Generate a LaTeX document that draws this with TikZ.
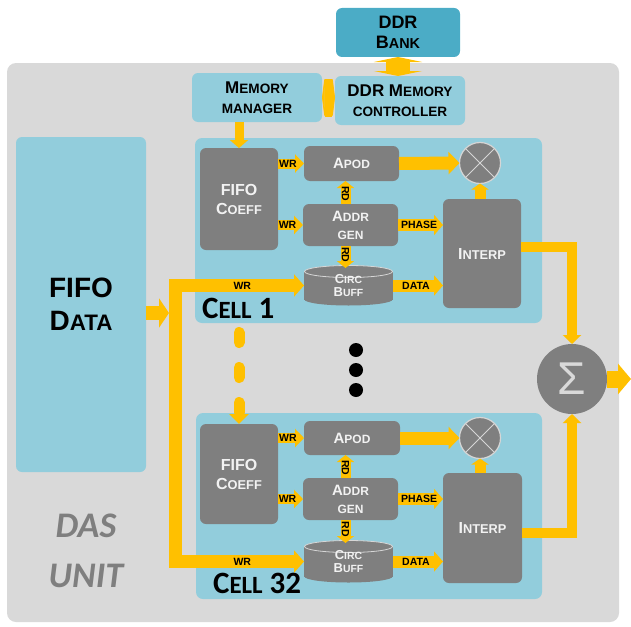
\documentclass[tikz,border=0pt]{standalone}
\usepackage{fontspec}
\setmainfont{Liberation Sans}
\newfontfamily\carlito{Carlito}
\usetikzlibrary{arrows.meta,calc}
\definecolor{bgGrey}{HTML}{D9D9D9}
\definecolor{lBlue}{HTML}{92CDDC}
\definecolor{bBlue}{HTML}{4BACC6}
\definecolor{dGrey}{HTML}{7F7F7F}
\definecolor{orng}{HTML}{FFC000}
\definecolor{txtW}{HTML}{F2F2F2}
\definecolor{cylEdge}{HTML}{D6D6D6}
\newcommand\smc[1]{\scalebox{0.8}{#1}}
\newcommand\fsz[2]{\fontsize{#1}{#2}\selectfont}
\begin{document}
\begin{tikzpicture}[x=1pt,y=-1pt,
  lbox/.style={fill=lBlue, rounded corners=6pt, inner sep=0pt, outer sep=0pt, align=center, text=black},
  gbox/.style={fill=dGrey, rounded corners=6pt, inner sep=0pt, outer sep=0pt, align=center, text=txtW},
  cellbox/.style={fill=lBlue, rounded corners=7pt, inner sep=0pt, outer sep=0pt},
  cyl/.style={inner sep=0pt, outer sep=0pt, align=center, text=txtW,
    minimum width=89pt,
    path picture={
      \fill[dGrey] ([yshift=-6pt]path picture bounding box.north west) rectangle ([yshift=6pt]path picture bounding box.south east);
      \fill[dGrey] ([yshift=6.5pt]path picture bounding box.south) ellipse[x radius=44pt, y radius=6pt];
      \filldraw[fill=dGrey, draw=cylEdge, line width=0.8pt] ([yshift=-6.5pt]path picture bounding box.north) ellipse[x radius=44pt, y radius=6pt];
    }},
  mult/.style={circle, fill=dGrey, draw=cylEdge, line width=1.2pt, minimum size=41pt, inner sep=0pt, outer sep=0pt},
  xline/.style={draw=cylEdge, line width=1pt},
  arrW/.style={draw=orng, line width=10pt, -{Triangle[length=9pt,width=18pt]}},
  arrP/.style={draw=orng, line width=12pt, -{Triangle[length=9pt,width=20pt]}},
  arrR/.style={draw=orng, line width=10pt, -{Triangle[length=7pt,width=17pt]}},
  arrS/.style={draw=orng, line width=10pt, -{Triangle[length=9pt,width=18pt]}},
  lbl/.style={font=\bfseries\fsz{10.5}{12}, text=black, inner sep=0pt},
  celllbl/.style={font=\carlito\bfseries\fsz{31}{31}, text=black, inner sep=0pt, anchor=base west},
  dot/.style={circle, fill=black, minimum size=14pt, inner sep=0pt}
]
\useasboundingbox (0,0) rectangle (631,626);

% DAS unit background
\node[fill=bgGrey, rounded corners=9pt, minimum width=612pt, minimum height=559pt, inner sep=0pt] (das) at (313,342.5) {};
\node[font=\carlito\bfseries\itshape\fsz{36}{50}, text=dGrey, align=center] (dasl) at (86,551) {DAS\\UNIT};

% memory blocks
\node[lbox, fill=bBlue, minimum width=124pt, minimum height=49pt, font=\bfseries\fsz{18}{20.5}] (bank) at (398,32.5) {DDR\\B\smc{ANK}};
\node[lbox, minimum width=130pt, minimum height=49pt, font=\bfseries\fsz{17}{20}] (mm) at (257,97.5) {M\smc{EMORY}\\\smc{MANAGER}};
\node[lbox, minimum width=130pt, minimum height=49pt, font=\bfseries\fsz{17}{20}] (ctrl) at (400,100.5) {DDR M\smc{EMORY}\\\smc{CONTROLLER}};

% FIFO data
\node[lbox, minimum width=130pt, minimum height=335pt, font=\bfseries\fsz{28}{33}] (fd) at (81,304.5) {FIFO\\D\smc{ATA}};

% cells
\node[cellbox, minimum width=347pt, minimum height=185pt] (c1) at (368.5,230.5) {};
\node[cellbox, minimum width=346pt, minimum height=186pt] (c32) at (369,506) {};

% cell 1 contents
\node[gbox, minimum width=78pt, minimum height=102pt, font=\bfseries\fsz{16}{19}] (fc1) at (239,199) {FIFO\\C\smc{OEFF}};
\node[gbox, minimum width=95pt, minimum height=35pt, font=\bfseries\fsz{15}{18}] (ap1) at (351.5,163.5) {A\smc{POD}};
\node[gbox, minimum width=95pt, minimum height=42pt, font=\bfseries\fsz{15}{18}] (ag1) at (350.5,225) {A\smc{DDR}\\\smc{GEN}};
\node[cyl, minimum height=41pt, font=\bfseries\fsz{13}{13}] (cb1) at (348.5,285.5) {\rule{0pt}{7pt}C\smc{IRC}\\B\smc{UFF}};
\node[mult] (mu1) at (480,163) {};
\draw[xline] (mu1.45) -- (mu1.225) (mu1.135) -- (mu1.315);
\node[gbox, minimum width=78pt, minimum height=109pt, font=\bfseries\fsz{16}{19}] (ip1) at (482,253.5) {I\smc{NTERP}};
\node[celllbl] (c1l) at (202,318) {C\smc{ELL} 1};

% cell 32 contents
\node[gbox, minimum width=78pt, minimum height=100pt, font=\bfseries\fsz{16}{19}] (fc32) at (239,474) {FIFO\\C\smc{OEFF}};
\node[gbox, minimum width=96pt, minimum height=34pt, font=\bfseries\fsz{15}{18}] (ap32) at (352,438) {A\smc{POD}};
\node[gbox, minimum width=95pt, minimum height=42pt, font=\bfseries\fsz{15}{18}] (ag32) at (350.5,499) {A\smc{DDR}\\\smc{GEN}};
\node[cyl, minimum height=43pt, font=\bfseries\fsz{13}{13}] (cb32) at (348.5,561.5) {\rule{0pt}{7pt}C\smc{IRC}\\B\smc{UFF}};
\node[mult] (mu32) at (480,438) {};
\draw[xline] (mu32.45) -- (mu32.225) (mu32.135) -- (mu32.315);
\node[gbox, minimum width=79pt, minimum height=110pt, font=\bfseries\fsz{16}{19}] (ip32) at (482.5,528) {I\smc{NTERP}};
\node[celllbl] (c32l) at (213,593) {C\smc{ELL} 32};

% sum
\node[circle, fill=dGrey, minimum size=70pt, inner sep=0pt, outer sep=0pt, text=bgGrey, font=\fsz{46}{46}] (sum) at (572,379) {Σ};
\coordinate (out) at (631,379);

% dots
\node[dot] (d1) at (356,350) {};
\node[dot] (d2) at (356,370) {};
\node[dot] (d3) at (356,390) {};

% memory arrows
\draw[draw=orng, line width=24pt, {Triangle[length=5pt,width=48pt]}-{Triangle[length=5pt,width=48pt]}] (bank.south) -- (bank.south |- ctrl.north);
\draw[draw=orng, line width=38pt, {Triangle[length=3pt,width=48pt]}-{Triangle[length=3pt,width=48pt]}] (mm.east) -- (ctrl.west |- mm.east);
\draw[draw=orng, line width=9pt, -{Triangle[length=8pt,width=18pt]}] (fc1.north |- mm.south) -- (fc1.north);

% dashed link cell 1 -> cell 32
\draw[draw=orng, line width=11pt, line cap=round, dash pattern=on 10pt off 25pt, -{Triangle[length=10pt,width=19pt]}] ($(fc1.north |- c1.south)+(0,9.5)$) -- (fc32.north);

% FIFO data bus
\coordinate (busx) at (175.5,0);
\coordinate (fdin) at (169,313);
\draw[draw=orng, line width=14pt, -{Triangle[length=10pt,width=29pt]}] (fd.east |- fdin) -- (fdin);
\draw[draw=orng, line width=13pt, {Triangle[length=10pt,width=22pt]}-{Triangle[length=10pt,width=22pt]}] (cb1.west) -- (cb1.west -| busx) -- (cb32.west -| busx) -- (cb32.west);
\node[lbl] (wrb1) at ($(cb1.west -| busx)!0.52!(cb1.west)$) {WR};
\node[lbl] (wrb32) at ($(cb32.west -| busx)!0.52!(cb32.west)$) {WR};

% cell 1 arrows
\draw[arrW] (fc1.east |- ap1.west) -- (ap1.west) node[lbl, pos=0.38] (wa1) {WR};
\draw[arrW] (fc1.east |- ag1.west) -- (ag1.west) node[lbl, pos=0.38] (wg1) {WR};
\coordinate (rd1) at ($(ag1.north)+(-5,0)$);
\coordinate (rdd1) at ($(ag1.south)+(-5,0)$);
\draw[arrR] (rd1) -- (rd1 |- ap1.south) node[lbl, pos=0.45, rotate=-90] (ru1) {RD};
\draw[arrR] (rdd1) -- ($(rdd1 |- cb1.north)+(0,3)$) node[lbl, pos=0.4, rotate=-90] (rdn1) {RD};
\draw[arrP] (ag1.east) -- (ip1.west |- ag1.east) node[lbl, pos=0.47] (ph1) {PHASE};
\draw[arrP] (cb1.east) -- (ip1.west |- cb1.east) node[lbl, pos=0.46] (da1) {DATA};
\draw[draw=orng, line width=13pt, -{Triangle[length=11pt,width=22pt]}] (ap1.east) -- (mu1.west);
\draw[draw=orng, line width=11pt, -{Triangle[length=6pt,width=17pt]}] (mu1.south |- ip1.north) -- (mu1.south);
\draw[arrS] ($(ip1.east)+(0,-6.5)$) -| (sum.north);

% cell 32 arrows
\draw[arrW] (fc32.east |- ap32.west) -- (ap32.west) node[lbl, pos=0.38] (wa32) {WR};
\draw[arrW] (fc32.east |- ag32.west) -- (ag32.west) node[lbl, pos=0.38] (wg32) {WR};
\coordinate (rd32) at ($(ag32.north)+(-5,0)$);
\coordinate (rdd32) at ($(ag32.south)+(-5,0)$);
\draw[arrR] (rd32) -- (rd32 |- ap32.south) node[lbl, pos=0.45, rotate=-90] (ru32) {RD};
\draw[arrR] (rdd32) -- ($(rdd32 |- cb32.north)+(0,3)$) node[lbl, pos=0.4, rotate=-90] (rdn32) {RD};
\draw[arrP] (ag32.east) -- (ip32.west |- ag32.east) node[lbl, pos=0.47] (ph32) {PHASE};
\draw[arrP] (cb32.east) -- (ip32.west |- cb32.east) node[lbl, pos=0.46] (da32) {DATA};
\draw[draw=orng, line width=13pt, -{Triangle[length=11pt,width=22pt]}] (ap32.east) -- (mu32.west);
\draw[draw=orng, line width=11pt, -{Triangle[length=6pt,width=17pt]}] (mu32.south |- ip32.north) -- (mu32.south);
\draw[arrS] ($(ip32.east)+(0,5)$) -| (sum.south);

% output
\draw[draw=orng, line width=17pt, -{Triangle[length=13pt,width=30pt]}] (sum.east) -- (out);
\end{tikzpicture}
\end{document}
